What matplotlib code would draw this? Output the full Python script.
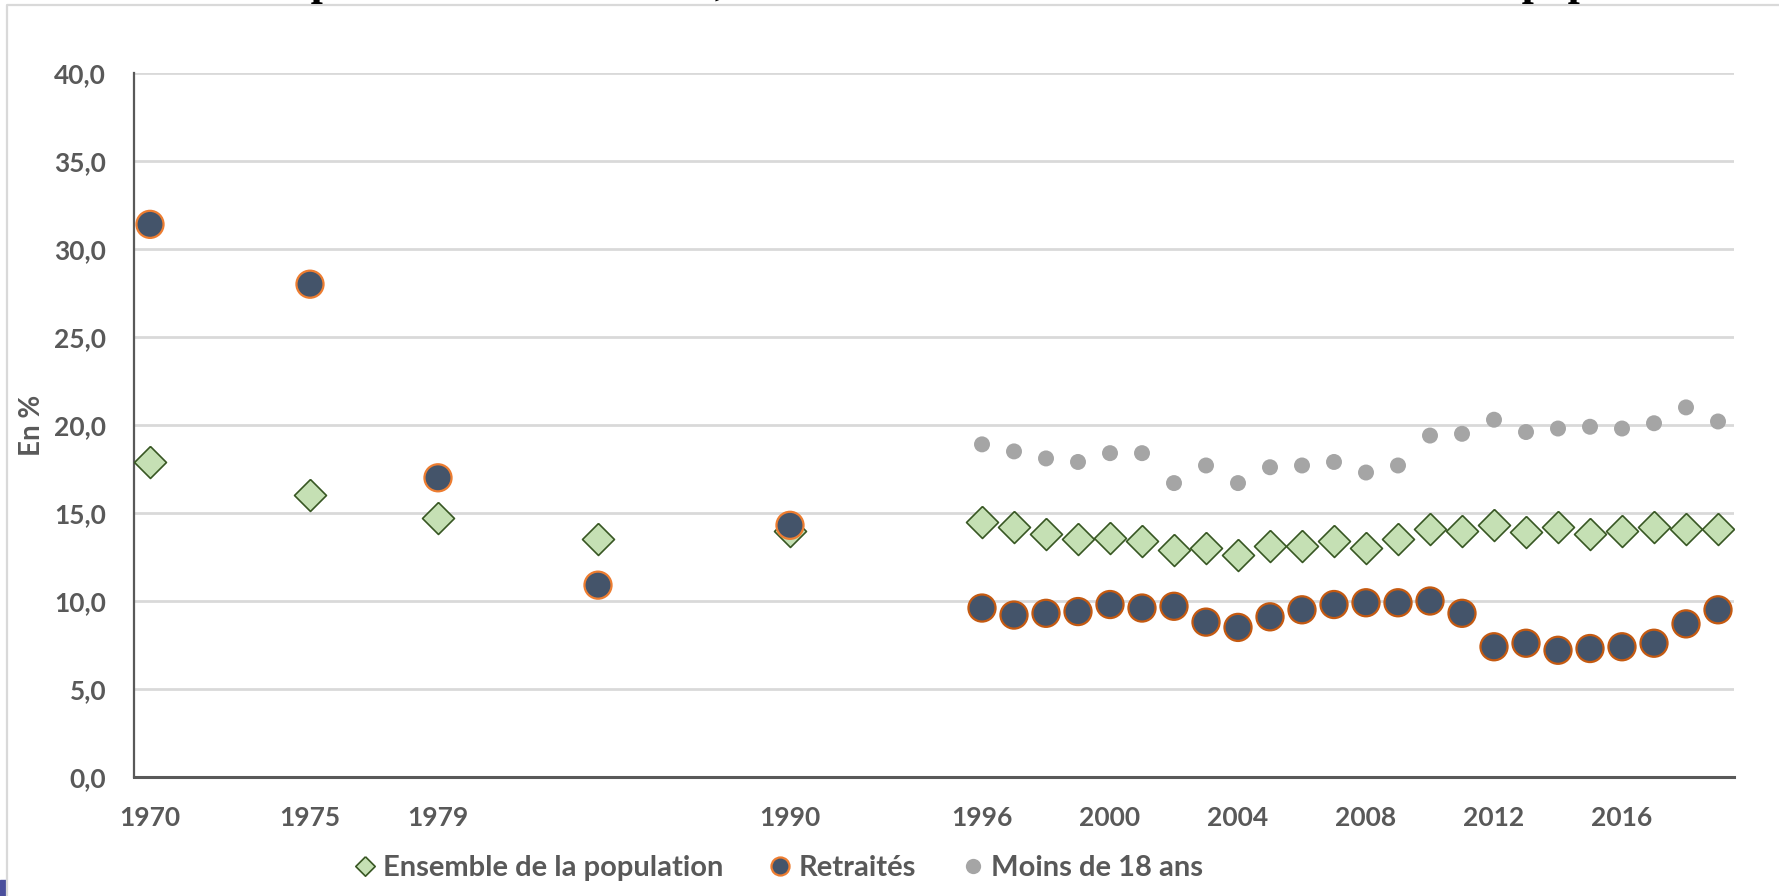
import numpy as np
import matplotlib
matplotlib.use('Agg')
import matplotlib.pyplot as plt
from matplotlib.lines import Line2D
from matplotlib.patches import Rectangle
from matplotlib.ticker import FuncFormatter

plt.rcParams['font.family'] = ['Lato', 'DejaVu Sans']
plt.rcParams['font.weight'] = 'bold'

# data (en %)
years_early = [1970, 1975, 1979, 1984, 1990]
years_recent = list(range(1996, 2020))

ensemble_early = [17.9, 16.0, 14.7, 13.5, 14.0]
ensemble_recent = [14.5, 14.2, 13.8, 13.5, 13.6, 13.4, 12.9, 13.0, 12.6, 13.1, 13.1, 13.4,
                   13.0, 13.5, 14.1, 14.0, 14.3, 13.9, 14.2, 13.8, 14.0, 14.2, 14.1, 14.1]

retraites_early = [31.4, 28.0, 17.0, 10.9, 14.3]
retraites_recent = [9.6, 9.2, 9.3, 9.4, 9.8, 9.6, 9.7, 8.8, 8.5, 9.1, 9.5, 9.8,
                    9.9, 9.9, 10.0, 9.3, 7.4, 7.6, 7.2, 7.3, 7.4, 7.6, 8.7, 9.5]

moins18_recent = [18.9, 18.5, 18.1, 17.9, 18.4, 18.4, 16.7, 17.7, 16.7, 17.6, 17.7, 17.9,
                  17.3, 17.7, 19.4, 19.5, 20.3, 19.6, 19.8, 19.9, 19.8, 20.1, 21.0, 20.2]

xtick_years = [1970, 1975, 1979, 1990, 1996, 2000, 2004, 2008, 2012, 2016]
labels = ['Ensemble de la population', 'Retraités', 'Moins de 18 ans']

txt = '#595959'
grid_c = '#d9d9d9'
diamond = [(0, 1), (1, 0), (0, -1), (-1, 0), (0, 1)]

W, H = 1779, 896
fig = plt.figure(figsize=(W / 100, H / 100), dpi=100)
ax = fig.add_axes([134 / W, 1 - 777 / H, 1600 / W, 704 / H])

x_all = years_early + years_recent
ax.scatter(x_all, ensemble_early + ensemble_recent, s=23 ** 2, marker=diamond,
           facecolor='#c5e0b4', edgecolor='#385723', linewidths=1.2, zorder=3)
edge_cols = ['#ed7d31'] * len(years_early) + ['#c55a11'] * len(years_recent)
ax.scatter(x_all, retraites_early + retraites_recent, s=19.5 ** 2, marker='o',
           facecolor='#44546a', edgecolor=edge_cols, linewidths=1.6, zorder=4)
ax.scatter(years_recent, moins18_recent, s=11.5 ** 2, marker='o',
           facecolor='#a5a5a5', edgecolor='none', zorder=3)

ax.set_xlim(1969.5, 2019.5)
ax.set_ylim(0, 40)
ax.set_yticks(np.arange(0, 41, 5))
ax.yaxis.set_major_formatter(FuncFormatter(lambda v, p: f'{v:.1f}'.replace('.', ',')))
ax.set_xticks(xtick_years)
ax.tick_params(length=0, labelsize=19, labelcolor=txt)
ax.tick_params(axis='y', pad=20)
ax.tick_params(axis='x', pad=21)
ax.grid(axis='y', color=grid_c, linewidth=2)
ax.set_axisbelow(True)
for s in ['top', 'right']:
    ax.spines[s].set_visible(False)
ax.spines['left'].set_color(txt)
ax.spines['left'].set_linewidth(1.6)
ax.spines['bottom'].set_color(txt)
ax.spines['bottom'].set_linewidth(2.2)

fig.text(32 / W, 1 - 425 / H, 'En %', rotation=90, ha='center', va='center',
         fontsize=20, color=txt)

handles = [
    Line2D([], [], linestyle='none', marker=diamond, markersize=14,
           markerfacecolor='#c5e0b4', markeredgecolor='#385723', markeredgewidth=1.2),
    Line2D([], [], linestyle='none', marker='o', markersize=13,
           markerfacecolor='#44546a', markeredgecolor='#ed7d31', markeredgewidth=1.6),
    Line2D([], [], linestyle='none', marker='o', markersize=11,
           markerfacecolor='#a5a5a5', markeredgecolor='none'),
]
fig.legend(handles, labels, loc='center', bbox_to_anchor=(778 / W, 1 - 868 / H),
           ncol=3, frameon=False, fontsize=21, labelcolor=txt,
           handlelength=0.8, handletextpad=0.22, columnspacing=1.55)

# title, mostly cut off above the image
fig.text(0.527, 1 + 5 / H, "Taux de pauvreté des retraités, des moins de 18 ans et de l'ensemble de la population",
         ha='center', va='baseline', fontsize=31.5, family='Liberation Serif',
         weight='bold', color='black')

# chart frame and the bit of shape at the bottom-left corner
fig.add_artist(Line2D([7 / W, 7 / W, 1], [0, 1 - 5 / H, 1 - 5 / H],
                      transform=fig.transFigure, color=grid_c, linewidth=1.6))
fig.add_artist(Rectangle((0, 0), 6 / W, 16 / H, transform=fig.transFigure,
                         color='#4a4f9c'))

fig.savefig('out.png', dpi=100)
